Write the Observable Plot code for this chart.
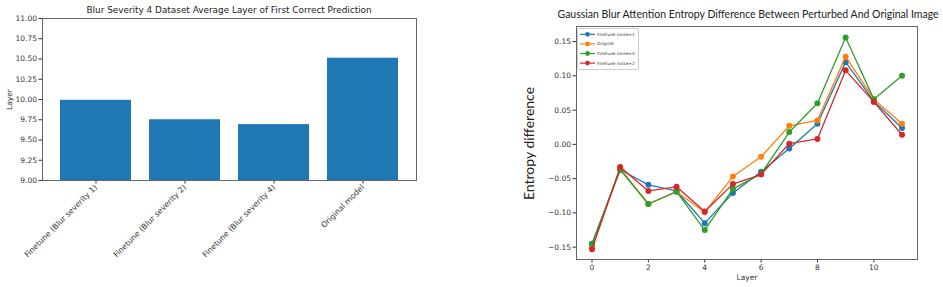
<!DOCTYPE html>
<html>
<head>
<meta charset="utf-8">
<script src="https://cdn.jsdelivr.net/npm/d3@7"></script>
<script src="https://cdn.jsdelivr.net/npm/@observablehq/plot@0.6"></script>
<style>
  body { margin: 0; background: #fff; }
  #wrap { position: relative; width: 943px; height: 287px; overflow: hidden; }
  #wrap > * { position: absolute; }
  .t-left { font-family: "DejaVu Sans"; font-size: 8.9px; color: #222; white-space: nowrap; }
  .t-right { font-family: "Lato"; font-size: 10.5px; color: #222; white-space: nowrap; }
  .ylab-right { font-family: "Lato"; font-size: 14px; color: #222; white-space: nowrap; transform-origin: center; }
</style>
</head>
<body>
<div id="wrap"></div>
<script>
// Left panel: average layer of first correct prediction per model
const models = [
  "Finetune (Blur severity 1)",
  "Finetune (Blur severity 2)",
  "Finetune (Blur severity 4)",
  "Original model"
];
const avgLayer = [9.99, 9.75, 9.69, 10.51];
const layerTicks = [9.00, 9.25, 9.50, 9.75, 10.00, 10.25, 10.50, 10.75, 11.00];

// Right panel: attention entropy difference per layer
const layers = [0, 1, 2, 3, 4, 5, 6, 7, 8, 9, 10, 11];
const noise1   = [-0.145, -0.037, -0.059, -0.068, -0.115, -0.071, -0.040, -0.006, 0.030, 0.120, 0.063, 0.024];
const original = [-0.150, -0.035, -0.087, -0.069, -0.099, -0.047, -0.018, 0.027, 0.035, 0.128, 0.066, 0.030];
const noise4   = [-0.145, -0.037, -0.087, -0.069, -0.125, -0.065, -0.043, 0.018, 0.060, 0.156, 0.066, 0.100];
const noise2   = [-0.153, -0.033, -0.068, -0.062, -0.098, -0.058, -0.044, 0.001, 0.008, 0.108, 0.062, 0.014];
const seriesNames = ["Finetune noise=1", "Original", "Finetune noise=4", "Finetune noise=2"];
const seriesValues = [noise1, original, noise4, noise2];
const seriesColors = ["#1f77b4", "#ff7f0e", "#2ca02c", "#d62728"];
const entropyTicks = [-0.15, -0.10, -0.05, 0.00, 0.05, 0.10, 0.15];
const layerXTicks = [0, 2, 4, 6, 8, 10];

const wrap = document.getElementById("wrap");
const fmt2 = v => d3.format(".2f")(v).replace("-", "\u2212");

// ---- left bar chart ----
const bars = models.map((m, i) => ({model: m, value: avgLayer[i]}));
const left = Plot.plot({
  width: 470, height: 287,
  marginLeft: 42, marginRight: 54, marginTop: 18, marginBottom: 107,
  style: {fontFamily: "DejaVu Sans", fontSize: "7.5px", color: "#333", background: "transparent", overflow: "visible"},
  x: {type: "band", domain: models, paddingInner: 0.2, paddingOuter: 0.19},
  y: {domain: [9, 11]},
  marks: [
    Plot.barY(bars, {x: "model", y1: 9, y2: "value", fill: "#1f77b4"}),
    Plot.axisX({tickRotate: -45, tickSize: 3.5, tickPadding: 2, label: null, fontSize: 7.8}),
    Plot.axisY({ticks: layerTicks, tickFormat: fmt2, tickSize: 3.5, tickPadding: 2,
      label: "Layer", labelAnchor: "center", labelArrow: "none", labelOffset: 36}),
    Plot.frame({stroke: "#666", strokeWidth: 1})
  ]
});
left.style.left = "0px"; left.style.top = "0px";
wrap.appendChild(left);

const tl = document.createElement("div");
tl.className = "t-left";
tl.textContent = "Blur Severity 4 Dataset Average Layer of First Correct Prediction";
wrap.appendChild(tl);
tl.style.left = (229 - tl.offsetWidth / 2) + "px";
tl.style.top = (10 - tl.offsetHeight / 2) + "px";

// ---- right line chart ----
const marks = [];
seriesNames.forEach((name, i) => {
  const rows = layers.map((l, j) => ({layer: l, value: seriesValues[i][j], series: name}));
  marks.push(Plot.line(rows, {x: "layer", y: "value", stroke: "series", strokeWidth: 1.3}));
  marks.push(Plot.dot(rows, {x: "layer", y: "value", fill: "series", r: 3}));
});
const right = Plot.plot({
  width: 473, height: 287,
  marginLeft: 106, marginRight: 26, marginTop: 26, marginBottom: 28,
  style: {fontFamily: "DejaVu Sans", fontSize: "7.5px", color: "#333", background: "transparent", overflow: "visible"},
  x: {domain: [-0.55, 11.55]},
  y: {domain: [-0.168, 0.172]},
  color: {domain: seriesNames, range: seriesColors},
  marks: [
    ...marks,
    Plot.axisX({ticks: layerXTicks, tickSize: 3.5, tickPadding: 2, label: "Layer", labelAnchor: "center", labelArrow: "none", labelOffset: 20}),
    Plot.axisY({ticks: entropyTicks, tickFormat: fmt2, tickSize: 3.5, tickPadding: 2, label: null}),
    Plot.frame({stroke: "#666", strokeWidth: 1})
  ]
});
right.style.left = "470px"; right.style.top = "0px";
wrap.appendChild(right);

const tr = document.createElement("div");
tr.className = "t-right";
tr.textContent = "Gaussian Blur Attention Entropy Difference Between Perturbed And Original Image";
wrap.appendChild(tr);
tr.style.left = (748 - tr.offsetWidth / 2) + "px";
tr.style.top = (14 - tr.offsetHeight / 2) + "px";

const yr = document.createElement("div");
yr.className = "ylab-right";
yr.textContent = "Entropy difference";
wrap.appendChild(yr);
yr.style.left = (528 - yr.offsetWidth / 2) + "px";
yr.style.top = (143 - yr.offsetHeight / 2) + "px";
yr.style.transform = "rotate(-90deg)";

// legend box in the upper-left corner of the right plot
const leg = d3.create("svg").attr("width", 62).attr("height", 42)
  .style("left", "577px").style("top", "28px").style("position", "absolute");
leg.append("rect").attr("x", 0.5).attr("y", 0.5).attr("width", 61).attr("height", 41)
  .attr("rx", 1.5).attr("fill", "#fff").attr("stroke", "#ccc");
seriesNames.forEach((name, i) => {
  const y = 6.3 + i * 9.6;
  const g = leg.append("g");
  g.append("line").attr("x1", 3).attr("x2", 18).attr("y1", y).attr("y2", y)
    .attr("stroke", seriesColors[i]).attr("stroke-width", 1.2);
  g.append("circle").attr("cx", 10.5).attr("cy", y).attr("r", 2.4).attr("fill", seriesColors[i]);
  g.append("text").attr("x", 20).attr("y", y).attr("dy", "0.35em")
    .attr("font-family", "DejaVu Sans").attr("font-size", 4.3).attr("fill", "#333").text(name);
});
wrap.appendChild(leg.node());
</script>
</body>
</html>
